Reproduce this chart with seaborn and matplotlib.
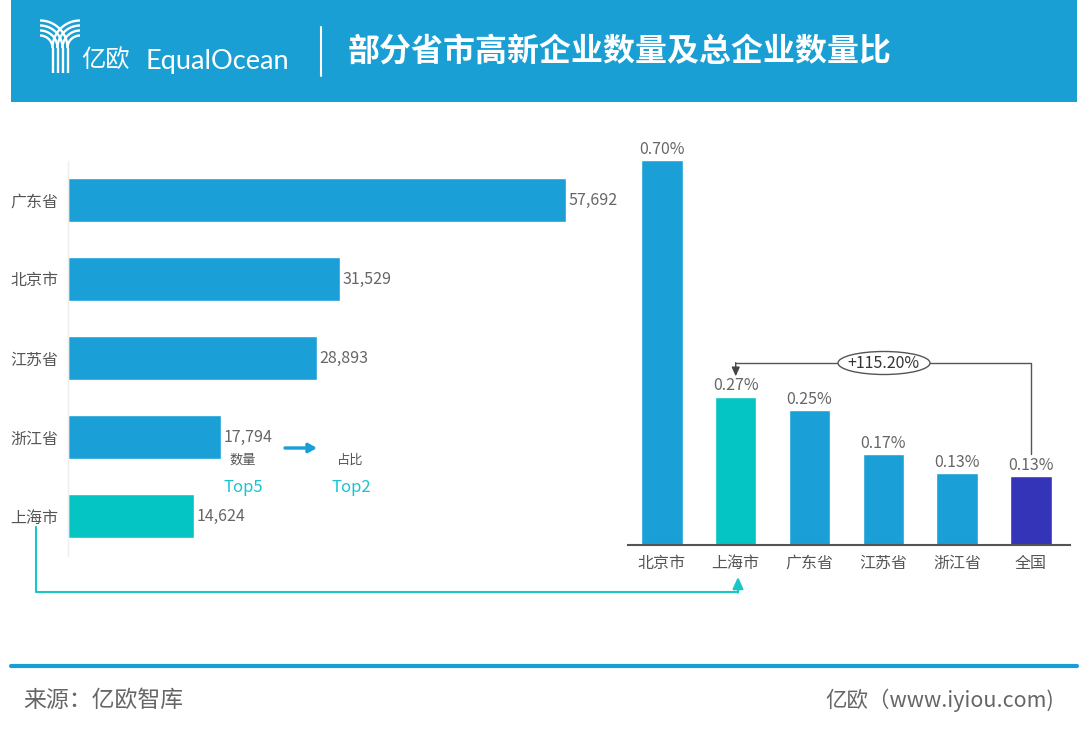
import numpy as np
import pandas as pd
import matplotlib
matplotlib.use("Agg")
import matplotlib.pyplot as plt
from matplotlib.patches import Rectangle, Ellipse, FancyArrowPatch
from matplotlib.transforms import IdentityTransform
import seaborn as sns

# ---------------- data ----------------
left_categories = ["广东省", "北京市", "江苏省", "浙江省", "上海市"]
left_values = [57692, 31529, 28893, 17794, 14624]
left_colors = ["#1aa0d6", "#1aa0d6", "#1aa0d6", "#1aa0d6", "#04c4c4"]

right_categories = ["北京市", "上海市", "广东省", "江苏省", "浙江省", "全国"]
right_values = [0.70, 0.27, 0.246, 0.166, 0.131, 0.1255]
right_colors = ["#1aa0d6", "#04c4c4", "#1aa0d6", "#1aa0d6", "#1aa0d6", "#3434b8"]

title = "部分省市高新企业数量及总企业数量比"
growth_label = "+115.20%"
source_text = "来源：亿欧智库"
site_text = "亿欧（www.iyiou.com)"

# ---------------- style ----------------
sns.set_theme(style="white")
FONT = ["Noto Sans CJK SC", "DejaVu Sans"]
plt.rcParams["font.family"] = FONT
BLUE = "#1aa0d6"
TEAL = "#04c4c4"
GRAY = "#666666"

W, H = 1080, 734
fig = plt.figure(figsize=(W / 100, H / 100), dpi=100)
fig.patch.set_facecolor("white")


def box(x0, y0, x1, y1):
    """pixel box (top-left origin) -> figure fraction rect"""
    return [x0 / W, 1 - y1 / H, (x1 - x0) / W, (y1 - y0) / H]


# overlay axes in pixel coordinates for decorations
ov = fig.add_axes([0, 0, 1, 1], zorder=0)
ov.set_xlim(0, W)
ov.set_ylim(H, 0)
ov.axis("off")

# header band
ov.add_patch(Rectangle((11, 0), 1066, 102, color="#1a9fd4", lw=0))
# logo strokes
t = np.linspace(0, 1, 40)
stems = [52.5, 57.5, 62.5, 67.5]
y_end = 48
for i in range(4):
    xs = stems[3 - i]
    r = xs - 40
    yl = y_end - r * np.cos(t * np.pi / 2)
    xl = 40 + r * np.sin(t * np.pi / 2)
    ov.plot(xl, yl, color="white", lw=1.7, solid_capstyle="butt")
    xs2 = stems[i]
    r2 = 80 - xs2
    yr = y_end - r2 * np.cos(t * np.pi / 2)
    xr = 80 - r2 * np.sin(t * np.pi / 2)
    ov.plot(xr, yr, color="white", lw=1.7, solid_capstyle="butt")
for xs in stems:
    ov.plot([xs, xs], [y_end, 73], color="white", lw=1.7, solid_capstyle="butt")

ov.text(81, 60, "亿欧", color="white", fontsize=17.5, fontweight="light",
        va="center", ha="left", family=FONT)
ov.text(145, 61, "EqualOcean", color="white", fontsize=19.5,
        va="center", ha="left", family=["Lato", "DejaVu Sans"])
ov.plot([321, 321], [27, 76], color="white", lw=1.5)
ov.text(348, 52, title, color="white", fontsize=23, fontweight="bold",
        va="center", ha="left", family=FONT)

# footer
ov.plot([11, 1077], [666, 666], color="#1a9fd4", lw=3)
ov.text(23, 700, source_text, color=GRAY, fontsize=16.5, fontweight="light",
        va="center", ha="left")
ov.text(1054, 700, site_text, color=GRAY, fontsize=15.5, fontweight="light",
        va="center", ha="right")

# ---------------- left chart ----------------
df_left = pd.DataFrame({"cat": left_categories, "val": left_values})
axl = fig.add_axes(box(68, 160.5, 620, 555.5), zorder=2)
axl.patch.set_alpha(0)
sns.barplot(data=df_left, x="val", y="cat", hue="cat", palette=left_colors,
            orient="h", width=0.545, legend=False, ax=axl, saturation=1)
axl.set_xlim(0, 64000)
axl.set_ylim(4.5, -0.5)
axl.set_xlabel("")
axl.set_ylabel("")
axl.set_xticks([])
for s in ["top", "right", "bottom"]:
    axl.spines[s].set_visible(False)
axl.spines["left"].set_color("#eeeeee")
axl.spines["left"].set_linewidth(1)
axl.tick_params(axis="y", length=0, pad=7, labelsize=11.5, labelcolor="#555555")
for lab in axl.get_yticklabels():
    lab.set_fontweight("light")
for i, v in enumerate(left_values):
    axl.text(v + 300, i, f"{v:,}", va="center", ha="left", fontsize=11.5,
             color=GRAY, fontweight="light")

# middle notes
ov.text(243, 460, "数量", color="#555555", fontsize=9.5, ha="center", va="center")
ov.text(243, 487, "Top5", color="#19c3cf", fontsize=12, ha="center", va="center")
ov.text(350, 460, "占比", color="#555555", fontsize=9.5, ha="center", va="center")
ov.text(351, 487, "Top2", color="#19c3cf", fontsize=12, ha="center", va="center")
ov.add_patch(FancyArrowPatch((285, 448), (317, 448),
                             arrowstyle="-|>,head_length=1.6,head_width=0.9",
                             color=BLUE, lw=2.4, mutation_scale=3,
                             shrinkA=0, shrinkB=0))

# teal connector arrow
ov.plot([36, 36, 738], [527, 592, 592], color="#19c6c6", lw=1.5)
ov.add_patch(FancyArrowPatch((738, 592.7), (738, 577),
                             arrowstyle="-|>,head_length=3.5,head_width=1.6",
                             color="#19c6c6", lw=1.5, mutation_scale=2,
                             shrinkA=0, shrinkB=0))

# ---------------- right chart ----------------
df_right = pd.DataFrame({"cat": right_categories, "val": right_values})
axr = fig.add_axes(box(628, 133, 1070, 545), zorder=2)
axr.patch.set_alpha(0)
sns.barplot(data=df_right, x="cat", y="val", hue="cat", palette=right_colors,
            width=0.56, legend=False, ax=axr, saturation=1)
axr.set_xlim(-0.46, 5.53)
axr.set_ylim(0, 0.75)
axr.set_xlabel("")
axr.set_ylabel("")
axr.set_yticks([])
for s in ["top", "right", "left"]:
    axr.spines[s].set_visible(False)
axr.spines["bottom"].set_color("#555555")
axr.spines["bottom"].set_linewidth(1.5)
axr.tick_params(axis="x", length=0, pad=7, labelsize=11.5, labelcolor="#555555")
for lab in axr.get_xticklabels():
    lab.set_fontweight("light")
for i, v in enumerate(right_values):
    axr.text(i, v + 0.004, f"{v:.2f}%", ha="center", va="bottom", fontsize=11.5,
             color=GRAY, fontweight="light")

# growth bracket (data coords of right axes)
y_br = 0.331
axr.plot([5, 5, 1], [right_values[5] + 0.041, y_br, y_br], color="#555555", lw=1,
         clip_on=False)
axr.annotate("", xy=(1, 0.307), xytext=(1, y_br + 0.001),
             arrowprops=dict(arrowstyle="-|>,head_length=0.45,head_width=0.2",
                             color="#444444", lw=1, shrinkA=0, shrinkB=0),
             annotation_clip=False)
ell = Ellipse((884, H - 363), 92, 23, facecolor="white", edgecolor="#555555",
              lw=1, transform=IdentityTransform(), zorder=6)
axr.add_artist(ell)
axr.text(3.0, y_br, growth_label, ha="center", va="center", fontsize=11.5,
         color="#333333", zorder=10)

fig.savefig("out.png", dpi=100, facecolor="white")
